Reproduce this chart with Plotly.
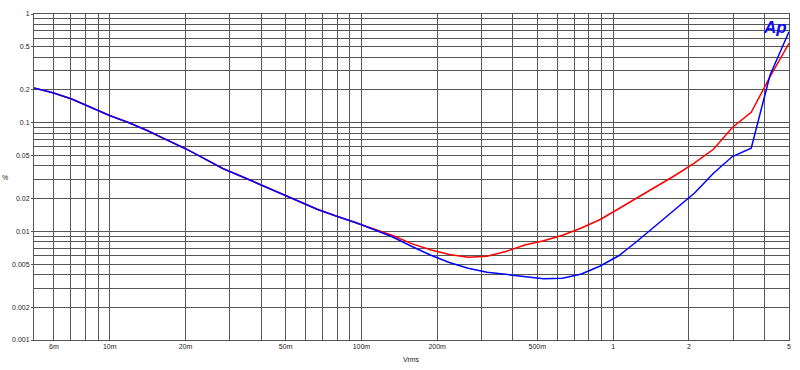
import plotly.graph_objects as go

# Sweep levels (Vrms)
vrms = [0.005, 0.00594, 0.00706, 0.00839, 0.00998, 0.01186, 0.01409, 0.01675,
        0.01991, 0.02366, 0.02812, 0.03342, 0.03972, 0.0472, 0.0561, 0.0667,
        0.0792, 0.0942, 0.112, 0.1331, 0.1581, 0.1879, 0.2234, 0.2655, 0.3155,
        0.375, 0.4457, 0.5297, 0.6295, 0.7482, 0.8891, 1.0567, 1.2559, 1.4926,
        1.7739, 2.1082, 2.5055, 2.9778, 3.539, 4.206, 5.0]

# THD+N (%) - red trace
red_pct = [0.2085, 0.1887, 0.1651, 0.1379, 0.1164, 0.1002, 0.0847, 0.0697,
           0.0579, 0.047, 0.0379, 0.032, 0.0269, 0.0223, 0.0188, 0.01595,
           0.01384, 0.01214, 0.0105, 0.00916, 0.00771, 0.00676, 0.00612,
           0.00577, 0.0059, 0.00653, 0.00748, 0.00818, 0.0092, 0.01073,
           0.01285, 0.01623, 0.0205, 0.026, 0.033, 0.0426, 0.0569, 0.0903,
           0.1246, 0.265, 0.5375]

# THD+N (%) - blue trace
blue_pct = [0.2085, 0.1887, 0.1651, 0.1379, 0.1164, 0.1002, 0.0847, 0.0697,
            0.0579, 0.047, 0.0379, 0.032, 0.0269, 0.0223, 0.0188, 0.01595,
            0.01384, 0.01214, 0.0104, 0.00887, 0.00729, 0.00606, 0.00517,
            0.00458, 0.0042, 0.00402, 0.00384, 0.00367, 0.0037, 0.00405,
            0.0048, 0.00599, 0.00823, 0.01149, 0.01589, 0.02254, 0.0342,
            0.0488, 0.0581, 0.2747, 0.687]

x_major = [0.006, 0.01, 0.02, 0.05, 0.1, 0.2, 0.5, 1, 2, 5]
x_major_text = ["6m", "10m", "20m", "50m", "100m", "200m", "500m", "1", "2", "5"]
x_minor = [0.007, 0.008, 0.009, 0.03, 0.04, 0.06, 0.07, 0.08, 0.09,
           0.3, 0.4, 0.6, 0.7, 0.8, 0.9, 3, 4]

y_major = [1, 0.5, 0.2, 0.1, 0.05, 0.02, 0.01, 0.005, 0.002, 0.001]
y_major_text = ["1", "0.5", "0.2", "0.1", "0.05", "0.02", "0.01", "0.005", "0.002", "0.001"]
y_minor = [0.9, 0.8, 0.7, 0.6, 0.4, 0.3, 0.09, 0.08, 0.07, 0.06, 0.04, 0.03,
           0.009, 0.008, 0.007, 0.006, 0.004, 0.003]

FONT = "Liberation Sans, Arial, sans-serif"
GRID = "#555555"
TXT = "#222222"

fig = go.Figure()
fig.add_trace(go.Scatter(x=vrms, y=red_pct, mode="lines",
                         line=dict(color="#ff0000", width=1.5)))
fig.add_trace(go.Scatter(x=vrms, y=blue_pct, mode="lines",
                         line=dict(color="#0000ff", width=1.5)))

fig.update_layout(
    width=800, height=370,
    margin=dict(l=34, r=11, t=14, b=30, autoexpand=False),
    paper_bgcolor="white", plot_bgcolor="white",
    showlegend=False,
    font=dict(family=FONT, size=7, color=TXT),
    xaxis=dict(type="log", range=[-2.30103, 0.69905], automargin=False,
               tickmode="array", tickvals=x_major, ticktext=x_major_text,
               showgrid=True, gridcolor=GRID, gridwidth=1,
               minor=dict(tickmode="array", tickvals=x_minor, showgrid=True,
                          gridcolor=GRID, gridwidth=1, ticks=""),
               showline=True, linecolor=GRID, linewidth=1, mirror=True,
               ticks="", zeroline=False, tickfont=dict(size=7, color=TXT)),
    yaxis=dict(type="log", range=[-3, 0], automargin=False,
               tickmode="array", tickvals=y_major, ticktext=y_major_text,
               showgrid=True, gridcolor=GRID, gridwidth=1,
               minor=dict(tickmode="array", tickvals=y_minor, showgrid=True,
                          gridcolor=GRID, gridwidth=1, ticks=""),
               showline=True, linecolor=GRID, linewidth=1, mirror=True,
               ticks="outside", ticklen=2, tickcolor=GRID,
               zeroline=False, tickfont=dict(size=7, color=TXT)),
    annotations=[
        dict(text="%", xref="paper", yref="paper", x=-0.038, y=0.5,
             xanchor="center", yanchor="middle", showarrow=False,
             font=dict(size=7, color=TXT)),
        dict(text="Vrms", xref="paper", yref="paper", x=0.5, y=-0.061,
             xanchor="center", yanchor="middle", showarrow=False,
             font=dict(size=7, color=TXT)),
        dict(text="<b><i>Ap</i></b>", xref="paper", yref="paper", x=1.0, y=0.995,
             xanchor="right", yanchor="top", showarrow=False,
             font=dict(size=17, color="#0a0aff", family=FONT)),
    ],
)

fig.write_html(
    "out.html",
    config={"displayModeBar": False},
    post_script="document.body.style.margin='0';document.body.style.overflow='hidden';",
)
